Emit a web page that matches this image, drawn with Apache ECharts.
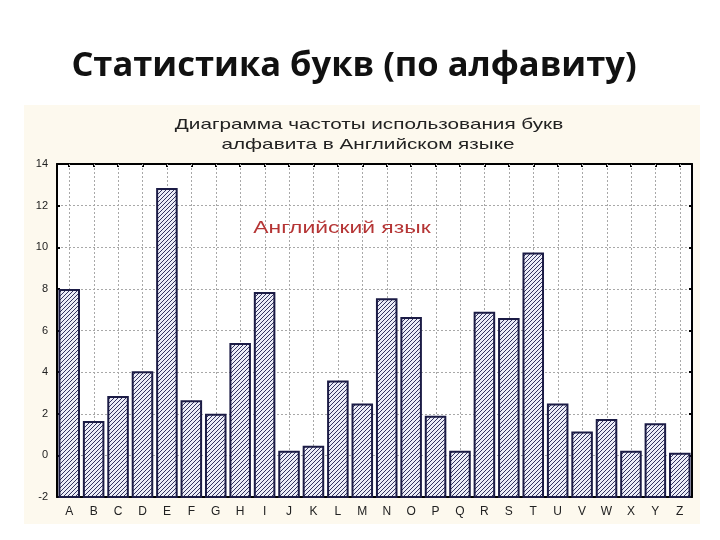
<!DOCTYPE html>
<html>
<head>
<meta charset="utf-8">
<script src="https://cdn.jsdelivr.net/npm/echarts@6/dist/echarts.min.js"></script>
<style>
  html, body { margin: 0; padding: 0; background: #ffffff; }
  #chart { width: 720px; height: 540px; }
</style>
</head>
<body>
<div id="chart"></div>
<script>
// ---- data ----
const letters = ['A','B','C','D','E','F','G','H','I','J','K','L','M','N','O','P','Q','R','S','T','U','V','W','X','Y','Z'];
const frequency = [7.95, 1.6, 2.8, 4.0, 12.8, 2.6, 1.95, 5.35, 7.8, 0.18, 0.42, 3.55, 2.45, 7.5, 6.6, 1.85, 0.18, 6.85, 6.55, 9.7, 2.45, 1.1, 1.7, 0.18, 1.5, 0.08];
const yMin = -2, yMax = 14, yStep = 2;
const slideTitle = 'Статистика букв (по алфавиту)';
const chartTitleLine1 = 'Диаграмма частоты использования букв';
const chartTitleLine2 = 'алфавита в Английском языке';
const annotation = 'Английский язык';

// ---- hatch pattern ----
function makeHatch() {
  const c = document.createElement('canvas');
  c.width = 4; c.height = 4;
  const g = c.getContext('2d');
  g.fillStyle = '#ebecf7';
  g.fillRect(0, 0, 4, 4);
  g.fillStyle = '#33335f';
  for (let k = 0; k < 4; k++) g.fillRect(k, 3 - k, 1, 1);
  return c;
}
const hatch = { image: makeHatch(), repeat: 'repeat' };

const chart = echarts.init(document.getElementById('chart'), null, { renderer: 'canvas' });

const gridLine = { show: true, lineStyle: { color: '#a8a8a8', type: [2, 2], width: 1 } };
const frameLine = { show: true, onZero: false, lineStyle: { color: '#000', width: 2 } };
const innerTick = { show: true, inside: true, alignWithLabel: true, length: 3, lineStyle: { color: '#000', width: 2 } };

chart.setOption({
  animation: false,
  backgroundColor: '#ffffff',
  graphic: [
    { type: 'rect', z: -10, silent: true, shape: { x: 24, y: 105, width: 676, height: 419 }, style: { fill: '#fdf9ee' } },
    { type: 'text', x: 354, y: 66, style: { text: slideTitle, font: 'bold 34.5px "Open Sans"', fill: '#111', align: 'center', verticalAlign: 'middle' } },
    { type: 'text', x: 369, y: 125, scaleX: 1.38, style: { text: chartTitleLine1, font: '15px "Liberation Sans"', fill: '#222', align: 'center', verticalAlign: 'middle' } },
    { type: 'text', x: 368, y: 145, scaleX: 1.38, style: { text: chartTitleLine2, font: '15px "Liberation Sans"', fill: '#222', align: 'center', verticalAlign: 'middle' } },
    { type: 'text', x: 342, y: 229, z: 50, scaleX: 1.43, style: { text: annotation, font: '16px "Liberation Sans"', fill: '#b53535', align: 'center', verticalAlign: 'middle' } }
  ],
  grid: { left: 57, right: 28, top: 164, bottom: 43, show: true, backgroundColor: '#ffffff', borderWidth: 0 },
  xAxis: [
    {
      type: 'category', data: letters, position: 'bottom',
      axisLine: frameLine,
      axisTick: innerTick,
      axisLabel: { color: '#222', fontSize: 12, fontFamily: 'Liberation Sans', margin: 9 },
      splitLine: { show: false }
    },
    {
      type: 'category', data: letters, position: 'top',
      axisLine: frameLine,
      axisTick: innerTick,
      axisLabel: { show: false },
      splitLine: { show: false }
    }
  ],
  yAxis: [
    {
      type: 'value', min: yMin, max: yMax, interval: yStep, position: 'left',
      axisLine: frameLine,
      axisTick: { show: true, inside: true, length: 3, lineStyle: { color: '#000', width: 2 } },
      axisLabel: { color: '#222', fontSize: 11, fontFamily: 'Liberation Sans', margin: 9 },
      splitLine: gridLine
    },
    {
      type: 'value', min: yMin, max: yMax, interval: yStep, position: 'right',
      axisLine: frameLine,
      axisTick: { show: true, inside: true, length: 3, lineStyle: { color: '#000', width: 2 } },
      axisLabel: { show: false },
      splitLine: { show: false }
    }
  ],
  series: [
    {
      // vertical dotted grid lines through category centres
      type: 'custom',
      xAxisIndex: 0, yAxisIndex: 0, z: 1, silent: true,
      data: letters.map((c, i) => [i]),
      renderItem: function (params, api) {
        const i = api.value(0);
        const a = api.coord([i, yMax]);
        const b = api.coord([i, yMin]);
        return {
          type: 'line',
          shape: { x1: Math.round(a[0]) + 0.5, y1: a[1], x2: Math.round(b[0]) + 0.5, y2: b[1] },
          style: { stroke: '#a8a8a8', lineWidth: 1, lineDash: [2, 2] }
        };
      }
    },
    {
      type: 'custom',
      xAxisIndex: 0, yAxisIndex: 0, z: 2,
      data: frequency.map((v, i) => [i, v]),
      renderItem: function (params, api) {
        const i = api.value(0), v = api.value(1);
        const top = api.coord([i, v]);
        const bot = api.coord([i, yMin]);
        const w = api.size([1, 0])[0] * 0.8;
        return {
          type: 'rect',
          shape: { x: top[0] - w / 2, y: top[1], width: w, height: bot[1] - top[1] },
          style: { fill: hatch, stroke: '#1b1b45', lineWidth: 2 }
        };
      }
    }
  ]
});
</script>
</body>
</html>
